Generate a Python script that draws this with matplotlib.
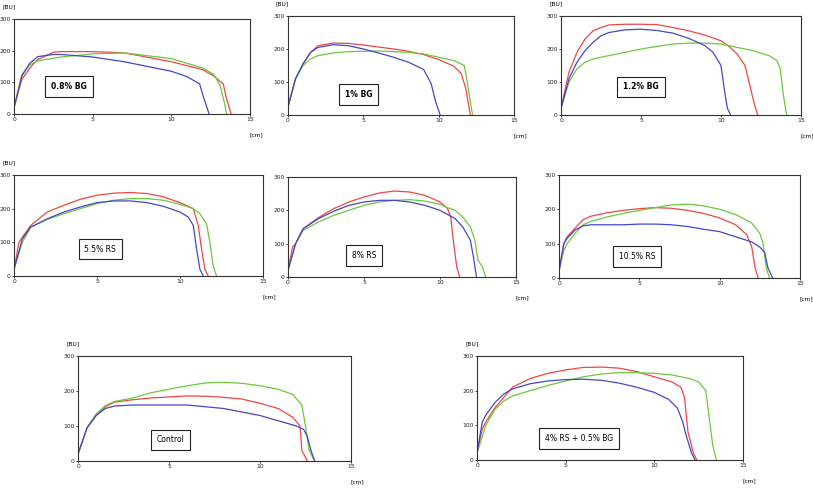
import matplotlib
matplotlib.use("Agg")
import matplotlib.pyplot as plt
import matplotlib.transforms as mtransforms

# curves: (cm, BU) points
bg08_red = [(0, 20), (0.5, 110), (1, 145), (1.5, 172), (2.5, 195), (3, 197), (5, 197), (7, 193), (10, 165), (12, 140), (12.7, 120), (13.3, 95), (13.5, 50), (13.8, 0)]
bg08_green = [(0, 20), (0.5, 125), (1, 155), (1.5, 168), (3, 180), (5, 190), (7, 193), (10, 175), (12, 145), (12.7, 125), (13.1, 90), (13.4, 30), (13.5, 0)]
bg08_blue = [(0, 20), (0.5, 120), (1, 160), (1.5, 181), (2.5, 188), (3, 188), (5, 180), (7, 165), (10, 135), (11, 118), (11.8, 95), (12, 60), (12.4, 0)]

bg1_red = [(0, 25), (0.5, 110), (1, 155), (1.5, 190), (2, 210), (3, 218), (4, 217), (5, 212), (6, 206), (7, 200), (8, 193), (9, 183), (10, 168), (11, 148), (11.5, 125), (11.8, 80), (12.1, 0)]
bg1_green = [(0, 25), (0.5, 110), (1, 150), (1.5, 170), (2, 180), (3, 188), (4, 192), (5, 193), (6, 194), (7, 192), (8, 190), (9, 185), (10, 175), (11, 165), (11.7, 150), (11.9, 100), (12.1, 40), (12.25, 0)]
bg1_blue = [(0, 25), (0.5, 110), (1, 155), (1.5, 190), (2, 205), (3, 213), (4, 210), (5, 200), (6, 188), (7, 175), (8, 160), (9, 138), (9.5, 95), (9.8, 40), (10.1, 0)]

bg12_red = [(0, 20), (0.5, 130), (1, 190), (1.5, 230), (2, 255), (2.5, 265), (3, 273), (4, 275), (5, 275), (6, 274), (7, 265), (8, 255), (9, 242), (10, 225), (10.5, 208), (11, 185), (11.5, 150), (11.8, 90), (12.1, 30), (12.3, 0)]
bg12_green = [(0, 20), (0.5, 100), (1, 140), (1.5, 160), (2, 170), (3, 180), (4, 190), (5, 200), (6, 208), (7, 215), (8, 218), (9, 218), (10, 215), (11, 205), (12, 195), (13, 180), (13.5, 165), (13.7, 140), (13.9, 60), (14.1, 0)]
bg12_blue = [(0, 20), (0.5, 110), (1, 160), (1.5, 195), (2, 220), (2.5, 240), (3, 250), (4, 258), (5, 260), (6, 256), (7, 248), (8, 232), (9, 210), (9.5, 190), (10, 150), (10.2, 80), (10.4, 20), (10.6, 0)]

rs55_red = [(0, 20), (0.3, 100), (0.5, 115), (1, 150), (2, 190), (3, 210), (4, 228), (5, 240), (6, 246), (7, 248), (8, 245), (9, 235), (10, 218), (10.8, 200), (11.1, 150), (11.3, 80), (11.5, 20), (11.7, 0)]
rs55_green = [(0, 20), (0.5, 100), (1, 145), (2, 168), (3, 185), (4, 200), (5, 215), (6, 225), (7, 230), (8, 230), (9, 225), (10, 213), (10.8, 200), (11.2, 185), (11.6, 155), (11.8, 100), (12.0, 30), (12.2, 0)]
rs55_blue = [(0, 20), (0.5, 110), (1, 145), (2, 170), (3, 190), (4, 205), (5, 218), (6, 223), (7, 223), (8, 218), (9, 207), (10, 190), (10.5, 175), (10.8, 150), (11.0, 80), (11.2, 20), (11.4, 0)]

rs8_red = [(0, 20), (0.3, 90), (0.5, 100), (1, 145), (2, 178), (3, 205), (4, 225), (5, 240), (6, 252), (7, 258), (8, 255), (9, 245), (10, 225), (10.5, 205), (10.7, 180), (10.9, 100), (11.1, 30), (11.3, 0)]
rs8_green = [(0, 20), (0.5, 100), (1, 140), (2, 165), (3, 185), (4, 200), (5, 215), (6, 225), (7, 230), (8, 232), (9, 228), (10, 218), (10.5, 208), (11, 200), (11.5, 180), (12, 150), (12.3, 110), (12.5, 50), (12.8, 30), (13.0, 0)]
rs8_blue = [(0, 20), (0.5, 100), (1, 145), (2, 175), (3, 197), (4, 215), (5, 225), (6, 230), (7, 230), (8, 225), (9, 215), (10, 200), (11, 175), (11.5, 150), (12, 110), (12.2, 60), (12.4, 0)]

rs105_red = [(0, 20), (0.3, 100), (0.5, 120), (1, 145), (1.5, 170), (2, 180), (3, 190), (4, 197), (5, 202), (6, 205), (7, 203), (8, 197), (9, 188), (10, 175), (11, 155), (11.7, 125), (12.0, 90), (12.2, 30), (12.4, 0)]
rs105_green = [(0, 20), (0.3, 80), (0.5, 100), (1, 130), (1.5, 155), (2, 165), (3, 178), (4, 188), (5, 197), (6, 205), (7, 213), (8, 215), (8.5, 213), (9, 210), (10, 200), (11, 185), (12, 160), (12.5, 130), (12.7, 100), (12.9, 30), (13.1, 0)]
rs105_blue = [(0, 20), (0.3, 100), (0.5, 115), (1, 140), (1.5, 152), (2, 155), (4, 155), (5, 157), (6, 157), (7, 155), (8, 150), (9, 142), (10, 135), (11, 120), (12, 105), (12.5, 90), (12.8, 75), (13.0, 30), (13.3, 0)]

ctrl_red = [(0, 20), (0.5, 95), (1, 130), (1.5, 155), (2, 168), (3, 175), (4, 180), (5, 183), (6, 186), (7, 185), (8, 182), (9, 177), (10, 165), (11, 150), (11.8, 125), (12.2, 100), (12.3, 30), (12.6, 0)]
ctrl_green = [(0, 20), (0.5, 95), (1, 135), (1.5, 158), (2, 170), (3, 180), (4, 195), (5, 205), (6, 215), (7, 223), (8, 225), (9, 222), (10, 215), (11, 205), (11.8, 190), (12.3, 160), (12.5, 100), (12.7, 30), (13.0, 0)]
ctrl_blue = [(0, 20), (0.5, 95), (1, 130), (1.5, 150), (2, 157), (3, 160), (4, 160), (5, 160), (6, 160), (7, 155), (8, 150), (9, 140), (10, 130), (11, 115), (12, 100), (12.4, 90), (12.6, 70), (12.8, 30), (13.0, 0)]

mix_red = [(0, 20), (0.3, 90), (0.5, 110), (1, 150), (1.5, 180), (2, 210), (3, 235), (4, 250), (5, 260), (6, 267), (7, 268), (8, 265), (9, 255), (10, 240), (11, 225), (11.5, 210), (11.7, 180), (11.9, 80), (12.2, 20), (12.4, 0)]
mix_green = [(0, 20), (0.5, 100), (1, 145), (1.5, 170), (2, 185), (3, 200), (4, 215), (5, 228), (6, 240), (7, 248), (8, 252), (9, 252), (10, 250), (11, 245), (12, 235), (12.5, 225), (12.9, 200), (13.1, 120), (13.3, 40), (13.5, 0)]
mix_blue = [(0, 20), (0.3, 110), (0.5, 130), (1, 165), (1.5, 190), (2, 205), (3, 220), (4, 228), (5, 232), (6, 233), (7, 230), (8, 222), (9, 210), (10, 195), (10.8, 175), (11.3, 150), (11.6, 110), (11.8, 70), (12.1, 20), (12.3, 0)]

labels = ["0.8% BG", "1% BG", "1.2% BG", "5.5% RS", "8% RS", "10.5% RS", "Control", "4% RS + 0.5% BG"]
curvas = [
    (bg08_red, bg08_green, bg08_blue),
    (bg1_red, bg1_green, bg1_blue),
    (bg12_red, bg12_green, bg12_blue),
    (rs55_red, rs55_green, rs55_blue),
    (rs8_red, rs8_green, rs8_blue),
    (rs105_red, rs105_green, rs105_blue),
    (ctrl_red, ctrl_green, ctrl_blue),
    (mix_red, mix_green, mix_blue),
]

# axes boxes in pixels: left, top, right, bottom
caixas = [(14, 19, 250, 114), (288, 16, 514, 115), (561, 16, 801, 115),
          (14, 175, 263, 276), (288, 177, 516, 277), (559, 175, 800, 278),
          (78, 356, 351, 461), (477, 356, 743, 460)]
# text box centres (cm, BU)
pos_label = [(3.5, 87), (4.7, 62), (5.0, 85), (5.2, 80), (5.0, 64), (4.85, 63), (5.1, 60), (5.75, 62)]
negrito = [True, True, True, False, False, False, False, False]
mostra_bu = [True, True, True, True, False, False, True, True]

cores = ["#f04646", "#6cc83c", "#4646c8"]

W, H = 813, 488
fig = plt.figure(figsize=(W / 100, H / 100), dpi=100)

for i in range(8):
    l, t, r, b = caixas[i]
    ax = fig.add_axes([l / W, 1 - b / H, (r - l) / W, (b - t) / H])
    for curva, cor in zip(curvas[i], cores):
        xs = [p[0] for p in curva]
        ys = [p[1] for p in curva]
        ax.plot(xs, ys, color=cor, lw=0.9)
    ax.set_xlim(0, 15)
    ax.set_ylim(0, 300)
    ax.set_xticks([0, 5, 10, 15])
    ax.set_yticks([0, 100, 200, 300])
    ax.tick_params(labelsize=4.3, length=1.5, width=0.6, pad=1, colors="#222222")
    for s in ax.spines.values():
        s.set_linewidth(0.8)
        s.set_color("#333333")
    lx, ly = pos_label[i]
    ax.text(lx, ly, labels[i], fontsize=5.5, ha="center", va="center",
            fontweight="bold" if negrito[i] else "normal",
            bbox=dict(boxstyle="square,pad=0.75", fc="white", ec="#222222", lw=0.8))
    if mostra_bu[i]:
        tr = mtransforms.offset_copy(ax.transAxes, fig=fig, x=-12, y=10, units="dots")
        ax.text(0, 1, "[BU]", fontsize=4.3, transform=tr, ha="left", va="bottom")
    tr = mtransforms.offset_copy(ax.transAxes, fig=fig, x=-1, y=-18, units="dots")
    ax.text(1, 0, "[cm]", fontsize=4.2, transform=tr, ha="left", va="top")

fig.savefig("out.png", dpi=100)
